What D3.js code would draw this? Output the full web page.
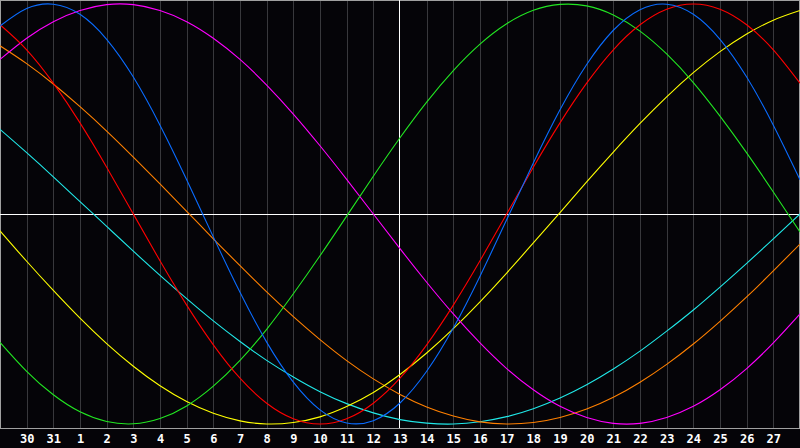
<!DOCTYPE html>
<html>
<head>
<meta charset="utf-8">
<script src="https://cdn.jsdelivr.net/npm/d3@7"></script>
<style>
  html, body { margin: 0; padding: 0; background: #050408; }
  svg { display: block; }
</style>
</head>
<body>
<div class="chart"></div>
<script>
// days shown across the window (end of last month, then this month)
const days = ['29', '30', '31', '1', '2', '3', '4', '5', '6', '7', '8', '9', '10',
  '11', '12', '13', '14', '15', '16', '17', '18', '19', '20', '21', '22', '23',
  '24', '25', '26', '27', '28'];
const labelDays = days.slice(1, -1);
const today = '13';

// cycle values per day, -1..1
const cycle23 = [0.895, 0.978, 0.999, 0.951, 0.832, 0.652, 0.423, 0.163, -0.109, -0.373,
  -0.610, -0.801, -0.933, -0.995, -0.984, -0.900, -0.749, -0.543, -0.296, -0.027,
  0.243, 0.496, 0.712, 0.875, 0.973, 0.999, 0.951, 0.832, 0.652, 0.423, 0.163];
const cycle28 = [0.901, 0.782, 0.623, 0.434, 0.223, 0, -0.223, -0.434, -0.623, -0.782,
  -0.901, -0.975, -1, -0.975, -0.901, -0.782, -0.623, -0.434, -0.223, 0,
  0.223, 0.434, 0.623, 0.782, 0.901, 0.975, 1, 0.975, 0.901, 0.782, 0.623];
const cycle33 = [-0.611, -0.749, -0.861, -0.942, -0.988, -0.999, -0.974, -0.914, -0.820, -0.697,
  -0.549, -0.380, -0.199, -0.010, 0.180, 0.363, 0.533, 0.683, 0.809, 0.906,
  0.970, 0.998, 0.991, 0.948, 0.871, 0.762, 0.626, 0.466, 0.291, 0.105, -0.086];
const cycle38 = [0.736, 0.837, 0.916, 0.969, 0.997, 0.997, 0.969, 0.916, 0.837, 0.736,
  0.614, 0.476, 0.325, 0.165, 0, -0.165, -0.325, -0.476, -0.614, -0.736,
  -0.837, -0.916, -0.969, -0.997, -0.997, -0.969, -0.916, -0.837, -0.736, -0.614, -0.476];
const cycle43 = [-0.080, -0.225, -0.364, -0.496, -0.617, -0.725, -0.818, -0.893, -0.949, -0.985,
  -1.0, -0.993, -0.966, -0.917, -0.850, -0.764, -0.662, -0.546, -0.418, -0.281,
  -0.138, 0.007, 0.153, 0.295, 0.431, 0.558, 0.673, 0.773, 0.857, 0.923, 0.969];
const cycle48 = [0.801, 0.716, 0.619, 0.511, 0.395, 0.271, 0.143, 0.013, -0.118, -0.246,
  -0.371, -0.489, -0.598, -0.698, -0.785, -0.859, -0.919, -0.962, -0.990, -1.0,
  -0.993, -0.969, -0.929, -0.873, -0.801, -0.716, -0.619, -0.511, -0.395, -0.271, -0.143];
const cycle53 = [0.403, 0.292, 0.177, 0.059, -0.059, -0.177, -0.292, -0.403, -0.509, -0.607,
  -0.697, -0.776, -0.846, -0.903, -0.947, -0.979, -0.996, -1.0, -0.989, -0.965,
  -0.927, -0.876, -0.813, -0.738, -0.653, -0.558, -0.457, -0.348, -0.235, -0.118, 0];

function drawChart() {
  const dimensions = {
    width: 800,
    height: 448,
    plotHeight: 428,
  };

  const series = [
    { values: cycle53, color: '#20e8e8' },
    { values: cycle48, color: '#ff8000' },
    { values: cycle43, color: '#ffff00' },
    { values: cycle38, color: '#ff00ff' },
    { values: cycle33, color: '#22e622' },
    { values: cycle28, color: '#ff0000' },
    { values: cycle23, color: '#0a6cff' },
  ];

  const svg = d3.select('.chart')
    .append('svg')
    .attr('width', dimensions.width)
    .attr('height', dimensions.height);

  svg.append('rect')
    .attr('width', dimensions.width)
    .attr('height', dimensions.height)
    .attr('fill', '#050408');

  const xScale = d3.scalePoint()
    .domain(days)
    .range([0, dimensions.width]);

  const yScale = d3.scaleLinear()
    .domain([-1, 1])
    .range([424, 4]);

  const px = (v) => Math.round(v) + 0.5;

  // day grid
  svg.append('g')
    .selectAll('line')
    .data(labelDays.filter((d) => d !== today))
    .join('line')
    .attr('x1', (d) => px(xScale(d)))
    .attr('x2', (d) => px(xScale(d)))
    .attr('y1', 0)
    .attr('y2', dimensions.plotHeight)
    .attr('stroke', '#38383c')
    .attr('shape-rendering', 'crispEdges');

  // frame
  svg.append('rect')
    .attr('x', 0.5)
    .attr('y', 0.5)
    .attr('width', dimensions.width - 1)
    .attr('height', dimensions.plotHeight)
    .attr('fill', 'none')
    .attr('stroke', '#a0a0a0')
    .attr('shape-rendering', 'crispEdges');

  // today + zero line
  svg.append('line')
    .attr('x1', px(xScale(today)) - 1)
    .attr('x2', px(xScale(today)) - 1)
    .attr('y1', 0)
    .attr('y2', dimensions.plotHeight)
    .attr('stroke', '#ffffff')
    .attr('shape-rendering', 'crispEdges');

  svg.append('line')
    .attr('x1', 0)
    .attr('x2', dimensions.width)
    .attr('y1', px(yScale(0)))
    .attr('y2', px(yScale(0)))
    .attr('stroke', '#ffffff')
    .attr('shape-rendering', 'crispEdges');

  const lineGenerator = d3.line()
    .x((d, i) => xScale(days[i]))
    .y((d) => yScale(d))
    .curve(d3.curveNatural);

  svg.append('g')
    .selectAll('path')
    .data(series)
    .join('path')
    .attr('d', (s) => lineGenerator(s.values))
    .attr('fill', 'none')
    .attr('stroke', (s) => s.color)
    .attr('stroke-width', 1.1);

  // day labels
  const xAxisGenerator = d3.axisBottom(xScale)
    .tickValues(labelDays)
    .tickSize(0)
    .tickPadding(0);

  const xAxis = svg.append('g')
    .attr('transform', 'translate(0, 443)')
    .call(xAxisGenerator);

  xAxis.select('.domain').remove();
  xAxis.selectAll('text')
    .attr('fill', '#ffffff')
    .attr('dy', 0)
    .style('font-family', '"DejaVu Sans Mono", monospace')
    .style('font-weight', 'bold')
    .style('font-size', '12px');
}

drawChart();
</script>
</body>
</html>
